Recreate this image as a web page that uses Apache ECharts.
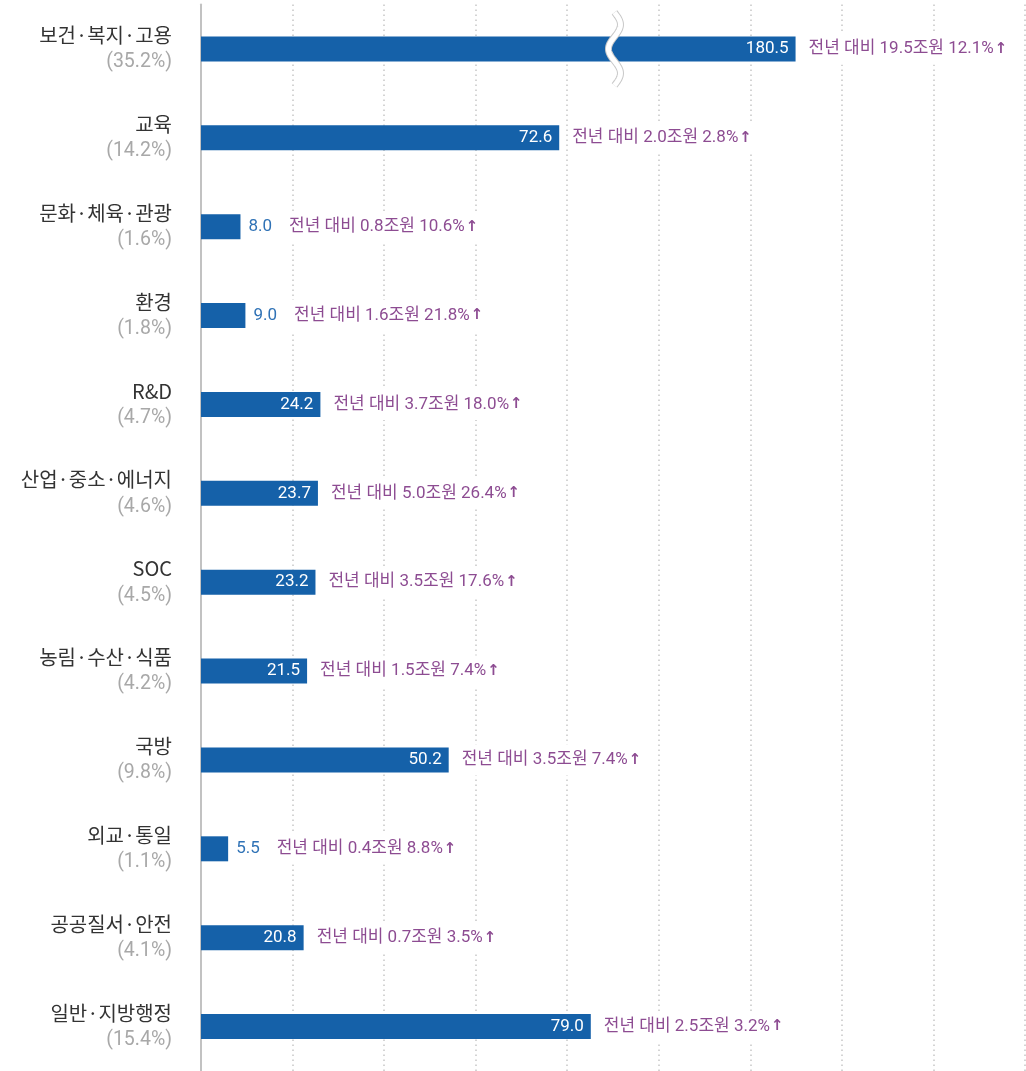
<!DOCTYPE html>
<html>
<head>
<meta charset="utf-8">
<script src="https://cdn.jsdelivr.net/npm/echarts@6/dist/echarts.min.js"></script>
<style>
  html, body { margin: 0; padding: 0; background: #fff; }
  #chart { width: 1026px; height: 1071px; }
</style>
</head>
<body>
<div id="chart"></div>
<script>
// 분야별 예산 (조원)
const categories = ['보건·복지·고용', '교육', '문화·체육·관광', '환경', 'R&D', '산업·중소·에너지', 'SOC', '농림·수산·식품', '국방', '외교·통일', '공공질서·안전', '일반·지방행정'];
const shares = ['35.2%', '14.2%', '1.6%', '1.8%', '4.7%', '4.6%', '4.5%', '4.2%', '9.8%', '1.1%', '4.1%', '15.4%'];
const values = [180.5, 72.6, 8.0, 9.0, 24.2, 23.7, 23.2, 21.5, 50.2, 5.5, 20.8, 79.0];
const diffAmount = [19.5, 2.0, 0.8, 1.6, 3.7, 5.0, 3.5, 1.5, 3.5, 0.4, 0.7, 2.5]; // 전년 대비 증가액
const diffRate = [12.1, 2.8, 10.6, 21.8, 18.0, 26.4, 17.6, 7.4, 7.4, 8.8, 3.5, 3.2];  // 전년 대비 증가율

// 축 생략 구간 (보건·복지·고용 막대)
const breakStart = 84;
const breakEnd = 144;
const axisMax = 227;

const FONT = "Roboto, 'Noto Sans CJK KR', sans-serif";
const KFONT = "'Noto Sans CJK KR', Roboto, sans-serif";
const BAR = '#1561a9';
const PURPLE = '#8d4c92';
const SMALL = 10; // 이보다 작은 막대는 값을 밖에 표시

const chart = echarts.init(document.getElementById('chart'), null, { renderer: 'canvas' });

const option = {
    backgroundColor: '#fff',
    animation: false,
    textStyle: { fontFamily: FONT },
    grid: { left: 201, right: 1, top: 4.5, height: 1075 },
    xAxis: [
        {
            type: 'value',
            min: 0,
            max: axisMax,
            breaks: [{ start: breakStart, end: breakEnd, gap: 0 }],
            breakArea: { show: false },
            axisLine: { show: false },
            axisTick: { show: false },
            axisLabel: { show: false },
            splitLine: { show: false },
        },
        {
            // 점선 눈금선
            type: 'value',
            min: 0,
            max: 9,
            interval: 1,
            axisLine: { show: false },
            axisTick: { show: false },
            axisLabel: { show: false },
            splitLine: { show: true, lineStyle: { color: '#c6c6c6', width: 1.5, type: [1.5, 3.5] } },
        },
    ],
    yAxis: {
        type: 'category',
        inverse: true,
        data: categories,
        axisLine: { show: true, lineStyle: { color: '#c2c2c2', width: 2 } },
        axisTick: { show: false },
        axisLabel: {
            margin: 29,
            align: 'right',
            formatter: (name, i) => `{n|${name}}\n{p|(${shares[i]})}`,
            rich: {
                n: { fontFamily: KFONT, fontSize: 20, color: '#333', lineHeight: 27, align: 'right' },
                p: { fontFamily: FONT, fontSize: 19.5, color: '#a8a8a8', lineHeight: 27, align: 'right' },
            },
        },
    },
    series: [
        {
            name: '예산',
            type: 'bar',
            xAxisIndex: 0,
            barWidth: 25,
            data: values.map(v => ({ value: v, label: { show: v >= SMALL } })),
            itemStyle: { color: BAR },
            label: {
                position: 'insideRight',
                distance: 7,
                color: '#fff',
                fontSize: 17,
                fontFamily: FONT,
                formatter: p => p.value.toFixed(1),
            },
            z: 2,
        },
        {
            name: '증감',
            type: 'bar',
            xAxisIndex: 0,
            barWidth: 25,
            barGap: '-100%',
            silent: true,
            itemStyle: { color: 'transparent' },
            data: values.map(v => ({ value: v, label: { distance: v < SMALL ? 5 : 10 } })),
            label: {
                show: true,
                position: 'right',
                backgroundColor: '#fff',
                padding: [7, 3, 7, 3],
                formatter: p => {
                    const i = p.dataIndex;
                    const v = values[i] < SMALL ? `{v|${values[i].toFixed(1)}}` : '';
                    return `${v}{t|전년 대비 ${diffAmount[i].toFixed(1)}조원 ${diffRate[i].toFixed(1)}%}{a|↑}`;
                },
                rich: {
                    v: { fontFamily: FONT, fontSize: 17, color: '#2f72b6', padding: [0, 17, 0, 0] },
                    t: { fontFamily: FONT, fontSize: 17, color: PURPLE },
                    a: { fontFamily: "'DejaVu Sans', sans-serif", fontSize: 15, fontWeight: 'bold', color: PURPLE, padding: [0, 0, 0, 1] },
                },
            },
            z: 3,
        },
    ],
};

chart.setOption(option);

// 생략 표시(물결)
const cx = chart.convertToPixel({ xAxisIndex: 0 }, breakStart);
const cy = chart.convertToPixel({ yAxisIndex: 0 }, categories[0]);
const wave = [];
for (let y = -36.5; y <= 36.5; y += 1) {
    wave.push([6 * Math.sin(Math.PI * (y + 36.5) / 24.33), y]);
}
chart.setOption({
    graphic: [
        {
            type: 'group',
            x: cx - 1,
            y: cy,
            z: 100,
            children: [
                { type: 'polyline', z: 100, shape: { points: wave }, style: { stroke: '#c8c8c8', lineWidth: 7, fill: null } },
                { type: 'polyline', z: 101, shape: { points: wave }, style: { stroke: '#fff', lineWidth: 5, fill: null } },
            ],
        },
    ],
});

window.addEventListener('resize', () => chart.resize());
</script>
</body>
</html>
